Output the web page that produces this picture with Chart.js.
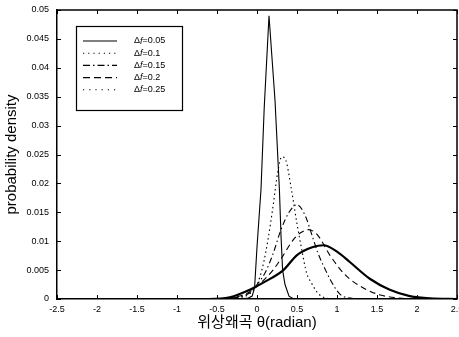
<!DOCTYPE html>
<html>
<head>
<meta charset="utf-8">
<script src="https://cdn.jsdelivr.net/npm/chart.js@4/dist/chart.umd.min.js"></script>
<style>
  html, body { margin: 0; padding: 0; background: #fff; }
</style>
</head>
<body>
<canvas id="chart" width="459" height="337"></canvas>
<script>
// Tick labels
const xTickLabels = ['-2.5', '-2', '-1.5', '-1', '-0.5', '0', '0.5', '1', '1.5', '2', '2.5'];
const yTickLabels = ['0', '0.005', '0.01', '0.015', '0.02', '0.025', '0.03', '0.035', '0.04', '0.045', '0.05'];

// Series names (delta f)
const deltaF = ['0.05', '0.1', '0.15', '0.2', '0.25'];

// Δf=0.05
const thetaA = [-2.5, -0.3, -0.12, -0.06, -0.03, 0, 0.05, 0.09, 0.15, 0.225, 0.28, 0.3, 0.32, 0.35, 0.4, 0.46, 2.5];
const densA  = [0, 0, 0.0001, 0.0005, 0.002, 0.009, 0.019, 0.033, 0.049, 0.0344, 0.019, 0.011, 0.005, 0.0025, 0.0005, 0, 0];

// Δf=0.1
const thetaB = [-2.5, -0.5, -0.25, -0.1, 0, 0.075, 0.14, 0.2, 0.26, 0.31, 0.36, 0.43, 0.5, 0.56, 0.62, 0.68, 0.75, 0.83, 1.0, 2.5];
const densB  = [0, 0, 0.0002, 0.0008, 0.0025, 0.0058, 0.0105, 0.016, 0.022, 0.0246, 0.024, 0.019, 0.013, 0.0085, 0.0045, 0.0028, 0.0012, 0.0003, 0, 0];

// Δf=0.15
const thetaC = [-2.5, -0.6, -0.3, -0.1, 0, 0.1, 0.2, 0.3, 0.4, 0.5, 0.6, 0.7, 0.76, 0.85, 0.91, 1.04, 1.2, 1.35, 2.5];
const densC  = [0, 0, 0.0002, 0.001, 0.0025, 0.0045, 0.0078, 0.012, 0.015, 0.0163, 0.0145, 0.0105, 0.008, 0.0052, 0.0035, 0.0008, 0.0001, 0, 0];

// Δf=0.2
const thetaD = [-2.5, -0.6, -0.35, -0.15, 0, 0.1, 0.2, 0.33, 0.45, 0.55, 0.64, 0.75, 0.91, 1.1, 1.33, 1.54, 1.75, 2.0, 2.5];
const densD  = [0, 0, 0.0002, 0.0008, 0.0022, 0.0035, 0.005, 0.0076, 0.0102, 0.0115, 0.012, 0.0112, 0.0076, 0.0042, 0.0019, 0.0007, 0.0002, 0, 0];

// Δf=0.25
const thetaE = [-2.5, -0.6, -0.34, -0.09, 0.1, 0.33, 0.5, 0.7, 0.83, 1.0, 1.16, 1.41, 1.66, 1.91, 2.16, 2.5];
const densE  = [0, 0, 0.0003, 0.0016, 0.003, 0.005, 0.0076, 0.009, 0.0093, 0.0082, 0.0064, 0.0035, 0.0016, 0.0005, 0.0001, 0];

const tickFont = { family: "'Liberation Sans Narrow', 'Liberation Sans', Arial, sans-serif", size: 9 };
const titleFont = { family: "'Liberation Sans', 'Noto Sans CJK KR', sans-serif", size: 15 };

// Line styles per series
const styles = [
    { width: 1.1, dash: [], tension: 0 },
    { width: 1.1, dash: [1.5, 3], tension: 0 },
    { width: 1.1, dash: [6, 3, 1.5, 3], tension: 0 },
    { width: 1.1, dash: [6, 4], tension: 0 },
    { width: 2.2, dash: [], tension: 0 }
];
// legend samples as printed in the key
const legendDash = [[], [1.2, 4], [7, 3, 1.5, 3], [7, 4], [1.2, 5]];

function toPoints(xs, ys) {
    return xs.map((v, i) => ({ x: v, y: ys[i] }));
}

const series = [
    toPoints(thetaA, densA),
    toPoints(thetaB, densB),
    toPoints(thetaC, densC),
    toPoints(thetaD, densD),
    toPoints(thetaE, densE)
];

// Inner ticks and top / right frame
const framePlugin = {
    id: 'frame',
    afterDatasetsDraw(chart) {
        const { ctx, chartArea: a, scales: { x, y } } = chart;
        ctx.save();
        ctx.strokeStyle = '#000';
        ctx.lineWidth = 1.5;
        ctx.beginPath();
        ctx.moveTo(a.left, a.top);
        ctx.lineTo(a.right, a.top);
        ctx.lineTo(a.right, a.bottom);
        ctx.stroke();
        ctx.lineWidth = 1;
        ctx.beginPath();
        x.ticks.forEach(t => {
            const px = Math.round(x.getPixelForValue(t.value)) + 0.5;
            ctx.moveTo(px, a.bottom); ctx.lineTo(px, a.bottom - 4);
            ctx.moveTo(px, a.top); ctx.lineTo(px, a.top + 4);
        });
        y.ticks.forEach(t => {
            const py = Math.round(y.getPixelForValue(t.value)) + 0.5;
            ctx.moveTo(a.left, py); ctx.lineTo(a.left + 4, py);
            ctx.moveTo(a.right, py); ctx.lineTo(a.right - 4, py);
        });
        ctx.stroke();
        ctx.restore();
    }
};

// Key box in the upper left of the plot
const keyPlugin = {
    id: 'key',
    afterDraw(chart) {
        const { ctx } = chart;
        const box = { x: 76.5, y: 26.5, w: 106, h: 84 };
        ctx.save();
        ctx.fillStyle = '#fff';
        ctx.fillRect(box.x, box.y, box.w, box.h);
        ctx.strokeStyle = '#000';
        ctx.lineWidth = 1.2;
        ctx.strokeRect(box.x, box.y, box.w, box.h);
        deltaF.forEach((label, i) => {
            const rowY = 41 + i * 12.2;
            ctx.beginPath();
            ctx.setLineDash(legendDash[i]);
            ctx.lineWidth = 1.1;
            ctx.moveTo(83, rowY);
            ctx.lineTo(117, rowY);
            ctx.stroke();
            ctx.setLineDash([]);
            ctx.fillStyle = '#000';
            ctx.textBaseline = 'middle';
            let tx = 134;
            ctx.font = "9px 'Liberation Sans', Arial, sans-serif";
            ctx.fillText('\u0394', tx, rowY);
            tx += ctx.measureText('\u0394').width;
            ctx.font = "italic 9px 'Liberation Sans', Arial, sans-serif";
            ctx.fillText('f', tx, rowY);
            tx += ctx.measureText('f').width;
            ctx.font = "9px 'Liberation Sans', Arial, sans-serif";
            ctx.fillText('=' + label, tx, rowY);
        });
        ctx.restore();
    }
};

new Chart(document.getElementById('chart').getContext('2d'), {
    type: 'line',
    data: {
        datasets: series.map((pts, i) => ({
            label: '\u0394f=' + deltaF[i],
            data: pts,
            borderColor: '#000',
            borderWidth: styles[i].width,
            borderDash: styles[i].dash,
            tension: styles[i].tension,
            cubicInterpolationMode: i === 0 ? 'default' : 'monotone',
            pointRadius: 0,
            fill: false
        }))
    },
    options: {
        responsive: false,
        animation: false,
        layout: { padding: { left: 0, right: 2, top: 10, bottom: 0 } },
        plugins: { legend: { display: false }, tooltip: { enabled: false } },
        scales: {
            x: {
                type: 'linear',
                min: -2.5,
                max: 2.5,
                grid: { display: false, drawTicks: false },
                border: { display: true, color: '#000', width: 1.5 },
                ticks: {
                    stepSize: 0.5,
                    autoSkip: false,
                    maxRotation: 0,
                    padding: 5,
                    color: '#000',
                    font: tickFont,
                    callback: (v, i) => xTickLabels[i]
                },
                title: {
                    display: true,
                    text: '위상왜곡 θ(radian)',
                    color: '#000',
                    font: titleFont,
                    padding: { top: 0, bottom: 5 }
                },
                afterFit: s => { s.height = 38; s.paddingLeft = 0; s.paddingRight = 0; }
            },
            y: {
                type: 'linear',
                min: 0,
                max: 0.05,
                grid: { display: false, drawTicks: false },
                border: { display: true, color: '#000', width: 1.5 },
                ticks: {
                    stepSize: 0.005,
                    padding: 8,
                    color: '#000',
                    font: tickFont,
                    callback: (v, i) => yTickLabels[i]
                },
                title: {
                    display: true,
                    text: 'probability density',
                    color: '#000',
                    font: titleFont,
                    padding: { top: 3, bottom: 0 }
                },
                afterFit: s => { s.width = 57; s.paddingTop = 0; s.paddingBottom = 0; }
            }
        }
    },
    plugins: [framePlugin, keyPlugin]
});
</script>
</body>
</html>
